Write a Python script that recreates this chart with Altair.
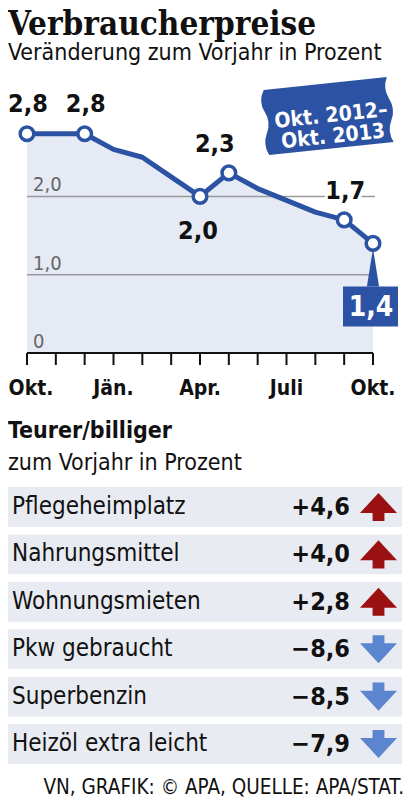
import altair as alt
import pandas as pd

# ---------------- data ----------------
months = list(range(13))  # 0 = Okt. 2012 ... 12 = Okt. 2013
cpi = [2.8, 2.8, 2.8, 2.6, 2.5, 2.25, 2.0, 2.3, 2.1, 1.95, 1.8, 1.7, 1.4]
marked_months = [0, 2, 6, 7, 11, 12]
x_tick_months = [0, 3, 6, 9, 12]
x_tick_labels = ["Okt.", "Jän.", "Apr.", "Juli", "Okt."]
grid_values = [1, 2]
y_tick_values = [0, 1, 2]
y_tick_labels = ["0", "1,0", "2,0"]

items = ["Pflegeheimplatz", "Nahrungsmittel", "Wohnungsmieten",
         "Pkw gebraucht", "Superbenzin", "Heizöl extra leicht"]
changes = [4.6, 4.0, 2.8, -8.6, -8.5, -7.9]

title = "Verbraucherpreise"
subtitle = "Veränderung zum Vorjahr in Prozent"
badge_lines = ["Okt. 2012–", "Okt. 2013"]
table_title = "Teurer/billiger"
table_subtitle = "zum Vorjahr in Prozent"
source = "VN, GRAFIK: © APA, QUELLE: APA/STAT."


def de(v):
    return f"{abs(v):.1f}".replace(".", ",")


line_df = pd.DataFrame({"m": months, "v": cpi, "lab": [de(v) for v in cpi]})
grid_df = pd.DataFrame({"v": grid_values})
ytick_df = pd.DataFrame({"v": y_tick_values, "lab": y_tick_labels})
xtick_df = pd.DataFrame({"m": months})
xlab_df = pd.DataFrame({"m": x_tick_months, "lab": x_tick_labels})
table_df = pd.DataFrame({
    "row": list(range(len(items))),
    "item": items,
    "val": [("+" if c > 0 else "\u2212") + de(c) for c in changes],
    "dir": ["up" if c > 0 else "down" for c in changes],
})
table_df["lo"] = table_df["row"] - 0.42
table_df["hi"] = table_df["row"] + 0.42
one = pd.DataFrame({"k": [0]})

# ---------------- styling ----------------
FONT = "Liberation Sans Narrow, DejaVu Sans Condensed, Roboto, sans-serif"
TITLE_FONT = "DejaVu Serif Condensed, DejaVu Serif, serif"
BLUE = "#2c53a3"
AREA = "#e6eaf4"
ROWBG = "#e8ebf2"

XS = alt.Scale(domain=[0, 12], range=[19, 365], nice=False, zero=False)
YS = alt.Scale(domain=[0, 3], range=[345, 110.1], nice=False, zero=False)
RS = alt.Scale(domain=[0, 5], range=[499, 736], nice=False, zero=False)

X = lambda f="m:Q": alt.X(f, scale=XS, axis=None)
Y = lambda f="v:Q": alt.Y(f, scale=YS, axis=None)
R = lambda f="row:Q": alt.Y(f, scale=RS, axis=None)
Y0 = lambda: alt.Y(datum=0, type="quantitative", scale=YS, axis=None)
X0 = lambda: alt.X(datum=0, type="quantitative", scale=XS, axis=None)

layers = []

# titles
layers.append(alt.Chart(one).mark_text(
    text=title, font=TITLE_FONT, fontSize=33, fontWeight="bold", align="left",
    baseline="alphabetic", color="#111").encode(x=alt.value(0), y=alt.value(27)))
layers.append(alt.Chart(one).mark_text(
    text=subtitle, font=FONT, fontSize=23, align="left",
    baseline="alphabetic", color="#111").encode(x=alt.value(0), y=alt.value(52)))

# area under line
layers.append(alt.Chart(line_df).mark_area(color=AREA, opacity=1).encode(
    x=X(), y=Y(), y2=alt.Y2(datum=0)))

# grid lines
layers.append(alt.Chart(grid_df).mark_rule(color="#9a9a9a", strokeWidth=1.5, x2Offset=2).encode(
    y=Y(), x=X0(), x2=alt.X2(datum=12)))

# y tick labels
layers.append(alt.Chart(ytick_df).mark_text(
    font=FONT, fontSize=20, color="#666", align="left", baseline="alphabetic",
    dx=6, dy=-5).encode(x=X0(), y=Y(), text="lab:N"))

# axis line and ticks
layers.append(alt.Chart(one).mark_rule(color="#111", strokeWidth=2).encode(
    x=X0(), x2=alt.X2(datum=12), y=Y0()))
layers.append(alt.Chart(xtick_df).mark_rule(color="#111", strokeWidth=2, y2Offset=12).encode(
    x=X(), y=Y0(), y2=alt.Y2(datum=0)))
layers.append(alt.Chart(xlab_df).transform_filter(alt.datum.m > 0).mark_text(
    font=FONT, fontSize=21, fontWeight="bold", color="#111", baseline="alphabetic",
    dy=42).encode(x=X(), y=Y0(), text="lab:N"))
layers.append(alt.Chart(xlab_df).transform_filter(alt.datum.m == 0).mark_text(
    font=FONT, fontSize=21, fontWeight="bold", color="#111", baseline="alphabetic",
    dx=4, dy=42).encode(x=X(), y=Y0(), text="lab:N"))

# line
layers.append(alt.Chart(line_df).mark_line(color=BLUE, strokeWidth=5, strokeJoin="round").encode(
    x=X(), y=Y()))

# pointer + box for the last value
last = line_df[line_df["m"] == 12]
layers.append(alt.Chart(last).mark_point(
    shape="M0,-1 L0.32,1 L-0.32,1 Z", size=1444, filled=True, color=BLUE,
    opacity=1, yOffset=24).encode(x=X(), y=Y()))
layers.append(alt.Chart(last).mark_rect(
    color=BLUE, xOffset=-30, x2Offset=25, yOffset=43, y2Offset=83).encode(
    x=X(), x2=alt.X2("m:Q"), y=Y(), y2=alt.Y2("v:Q")))
layers.append(alt.Chart(last).mark_text(
    font=FONT, fontSize=28, fontWeight="bold", color="white", baseline="alphabetic",
    dx=-2, dy=73).encode(x=X(), y=Y(), text="lab:N"))

# circles
layers.append(alt.Chart(line_df).transform_filter(
    alt.FieldOneOfPredicate(field="m", oneOf=marked_months)).mark_point(
    shape="circle", size=185, filled=False, fill="white", stroke=BLUE,
    strokeWidth=3.5, opacity=1).encode(x=X(), y=Y()))


def value_labels(ms, dx, dy, halo=False):
    base = alt.Chart(line_df).transform_filter(
        alt.FieldOneOfPredicate(field="m", oneOf=ms))
    out = []
    if halo:
        out.append(base.mark_text(
            font=FONT, fontSize=25, fontWeight="bold", color="white", stroke="white",
            strokeWidth=6, baseline="alphabetic", dx=dx, dy=dy).encode(
            x=X(), y=Y(), text="lab:N"))
    out.append(base.mark_text(
        font=FONT, fontSize=25, fontWeight="bold", color="#111", baseline="alphabetic",
        dx=dx, dy=dy).encode(x=X(), y=Y(), text="lab:N"))
    return out


layers += value_labels([0], 1, -22)
layers += value_labels([2], 1, -22)
layers += value_labels([7], -14, -21)
layers += value_labels([11], 1, -21, halo=True)
layers += value_labels([6], -2, 43)

# badge
ribbon = ("M-0.9,-0.48 L0.92,-0.48 Q0.84,-0.32 0.92,-0.16 Q1.0,0 0.92,0.16 "
          "Q0.84,0.32 0.92,0.48 L-0.92,0.48 Q-1.0,0.32 -0.92,0.16 "
          "Q-0.84,0 -0.92,-0.16 Q-1.0,-0.32 -0.9,-0.48 Z")
layers.append(alt.Chart(one).mark_point(
    shape=ribbon, size=18500, filled=True, color=BLUE, opacity=1, angle=354).encode(
    x=alt.value(320), y=alt.value(108)))
layers.append(alt.Chart(one).mark_text(
    text=badge_lines, lineHeight=21, font=FONT, fontSize=21, fontWeight="bold",
    color="white", angle=354, baseline="middle").encode(
    x=alt.value(323), y=alt.value(108)))

# table titles
layers.append(alt.Chart(one).mark_text(
    text=table_title, font=FONT, fontSize=23, fontWeight="bold", align="left",
    baseline="alphabetic", color="#111").encode(x=alt.value(0), y=alt.value(430)))
layers.append(alt.Chart(one).mark_text(
    text=table_subtitle, font=FONT, fontSize=23, align="left",
    baseline="alphabetic", color="#111").encode(x=alt.value(0), y=alt.value(462)))

# table rows
layers.append(alt.Chart(table_df).mark_rect(color=ROWBG).encode(
    y=R("lo:Q"), y2=alt.Y2("hi:Q"), x=alt.value(0), x2=alt.value(394)))
layers.append(alt.Chart(table_df).mark_text(
    font=FONT, fontSize=24, color="#111", align="left", baseline="middle").encode(
    y=R(), x=alt.value(4), text="item:N"))
layers.append(alt.Chart(table_df).mark_text(
    font=FONT, fontSize=25, fontWeight="bold", color="#111", align="right",
    baseline="middle").encode(y=R(), x=alt.value(342), text="val:N"))

UP = "M0,-0.76 L1,0.32 L0.32,0.32 L0.32,0.76 L-0.32,0.76 L-0.32,0.32 L-1,0.32 Z"
DOWN = "M0,0.76 L1,-0.32 L0.32,-0.32 L0.32,-0.76 L-0.32,-0.76 L-0.32,-0.32 L-1,-0.32 Z"
layers.append(alt.Chart(table_df).mark_point(
    size=1369, filled=True, opacity=1).encode(
    y=R(), x=alt.value(370.5),
    shape=alt.Shape("dir:N", scale=alt.Scale(domain=["up", "down"], range=[UP, DOWN]), legend=None),
    color=alt.Color("dir:N", scale=alt.Scale(domain=["up", "down"], range=["#9b1111", "#5b86cf"]), legend=None)))

# source
layers.append(alt.Chart(one).mark_text(
    text=source, font=FONT, fontSize=20.5, align="right", baseline="alphabetic",
    color="#111").encode(x=alt.value(396), y=alt.value(786)))

chart = alt.layer(*layers).resolve_scale(
    x="independent", y="independent", shape="independent", color="independent"
).properties(
    width=396, height=790, padding=0, autosize=alt.AutoSizeParams(type="none")
).configure_view(stroke=None)

chart.save("out.html", embed_options={"renderer": "svg", "actions": False})
